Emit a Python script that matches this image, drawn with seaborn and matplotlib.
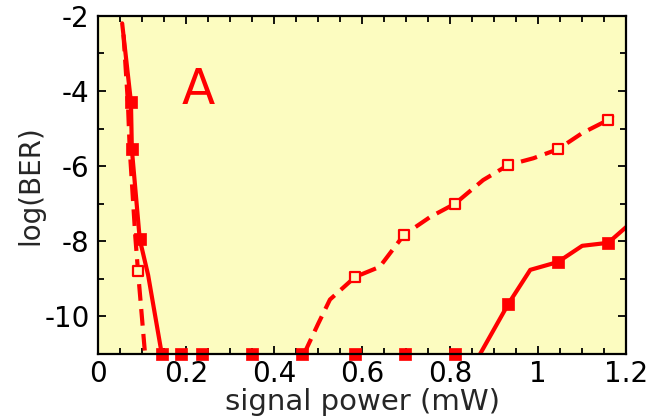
import numpy as np
import pandas as pd
import matplotlib
matplotlib.use("Agg")
import matplotlib.pyplot as plt
from matplotlib.ticker import MultipleLocator
import seaborn as sns

# ---- data ----
left_solid_x = [0.055, 0.075, 0.077, 0.095, 0.114, 0.145]
left_solid_y = [-2.2, -4.3, -5.55, -7.95, -8.9, -11.0]
left_solid_mx = [0.075, 0.077, 0.095]
left_solid_my = [-4.3, -5.55, -7.95]

left_dash_x = [0.058, 0.068, 0.072, 0.085, 0.091, 0.107]
left_dash_y = [-2.5, -4.3, -5.5, -7.9, -8.8, -11.0]
left_dash_mx = [0.091]
left_dash_my = [-8.8]

right_dash_x = [0.468, 0.50, 0.527, 0.584, 0.64, 0.695, 0.755, 0.811, 0.875,
                0.932, 0.989, 1.045, 1.10, 1.159, 1.17]
right_dash_y = [-11.0, -10.2, -9.55, -8.95, -8.68, -7.83, -7.35, -7.0, -6.37,
                -5.97, -5.79, -5.55, -5.12, -4.77, -4.65]
right_dash_mx = [0.584, 0.695, 0.811, 0.932, 1.045, 1.159]
right_dash_my = [-8.95, -7.83, -7.0, -5.97, -5.55, -4.77]

right_solid_x = [0.868, 0.932, 0.982, 1.045, 1.10, 1.159, 1.20]
right_solid_y = [-11.0, -9.67, -8.76, -8.55, -8.12, -8.04, -7.62]
right_solid_mx = [0.932, 1.045, 1.159]
right_solid_my = [-9.67, -8.55, -8.04]

floor_x = [0.145, 0.188, 0.236, 0.35, 0.464, 0.584, 0.698, 0.811]
floor_y = [-11.0] * len(floor_x)

x_ticks = [0, 0.2, 0.4, 0.6, 0.8, 1.0, 1.2]
x_ticklabels = ["0", "0.2", "0.4", "0.6", "0.8", "1", "1.2"]
y_ticks = [-10, -8, -6, -4, -2]
y_ticklabels = ["-10", "-8", "-6", "-4", "-2"]

# ---- style ----
sns.set_theme(style="ticks")
plt.rcParams["font.family"] = ["DejaVu Sans"]
RED = "#FF0000"
BG = "#FCFCC0"
FS = 20

fig = plt.figure(figsize=(6.53, 4.17), dpi=100)
ax = fig.add_axes([0.150, 0.151, 0.809, 0.811])
ax.set_facecolor(BG)

LW = 3.0
DASH = (0, (4, 2))

def line(x, y, ls):
    df = pd.DataFrame({"x": x, "y": y})
    sns.lineplot(data=df, x="x", y="y", ax=ax, color=RED, lw=LW,
                 estimator=None, sort=False, linestyle=ls, zorder=2)

line(left_dash_x, left_dash_y, DASH)
line(right_dash_x, right_dash_y, DASH)
line(left_solid_x, left_solid_y, "-")
line(right_solid_x, right_solid_y, "-")

def marks(x, y, filled, size):
    df = pd.DataFrame({"x": x, "y": y})
    if filled:
        sns.scatterplot(data=df, x="x", y="y", ax=ax, marker="s", s=size,
                        color=RED, edgecolor=RED, linewidth=0.5,
                        clip_on=False, zorder=4)
    else:
        sns.scatterplot(data=df, x="x", y="y", ax=ax, marker="s", s=size,
                        facecolor=BG, edgecolor=RED, linewidth=1.6,
                        clip_on=False, zorder=3)

marks(left_dash_mx, left_dash_my, False, 45)
marks(right_dash_mx, right_dash_my, False, 45)
marks(left_solid_mx, left_solid_my, True, 70)
marks(right_solid_mx, right_solid_my, True, 70)
marks(floor_x, floor_y, True, 70)

ax.text(0.227, -3.97, "A", color=RED, fontsize=35, ha="center", va="center")

ax.set_xlim(0, 1.2)
ax.set_ylim(-11, -2)
ax.set_xticks(x_ticks)
ax.set_xticklabels(x_ticklabels)
ax.set_yticks(y_ticks)
ax.set_yticklabels(y_ticklabels)
ax.xaxis.set_minor_locator(MultipleLocator(0.05))
ax.yaxis.set_minor_locator(MultipleLocator(1))
ax.tick_params(which="both", direction="in", top=True, right=True,
               width=1.3, colors="black", labelsize=FS)
ax.tick_params(which="major", length=6)
ax.tick_params(which="minor", length=4.5)
ax.tick_params(axis="x", which="major", pad=4)
ax.tick_params(axis="y", which="major", pad=6)
for s in ax.spines.values():
    s.set_linewidth(1.6)
    s.set_color("black")
    s.set_zorder(5)

ax.set_xlabel("signal power (mW)", fontsize=21, labelpad=0)
ax.set_ylabel("log(BER)", fontsize=FS, labelpad=0)

fig.savefig("out.png", dpi=100)
